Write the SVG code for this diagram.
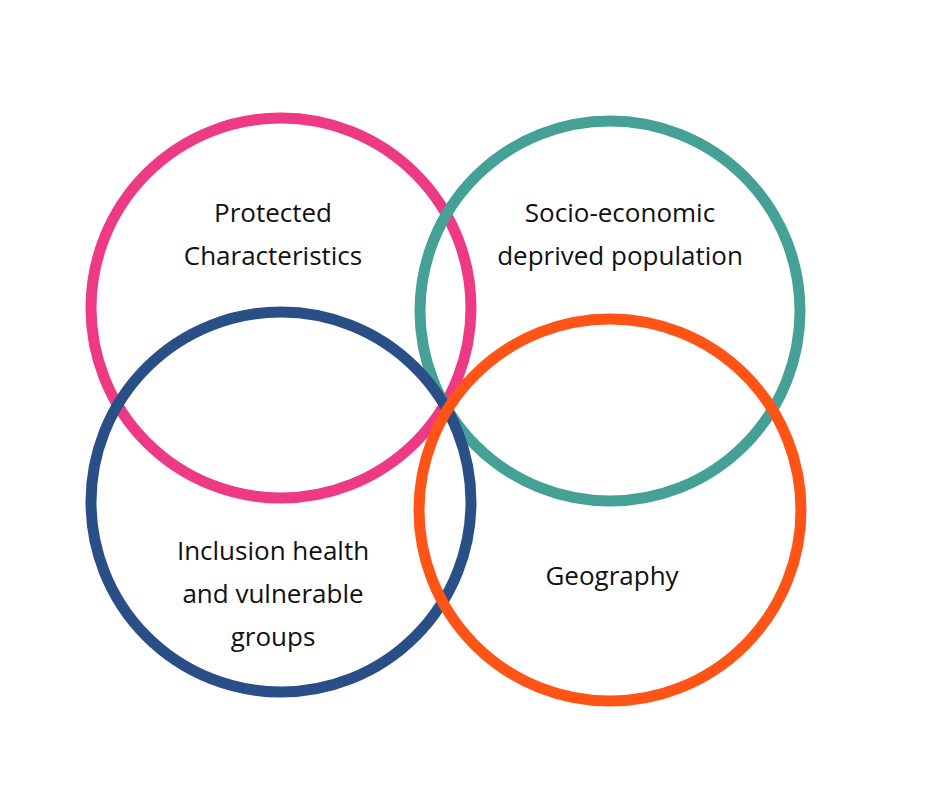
<svg xmlns="http://www.w3.org/2000/svg" width="940" height="788" viewBox="0 0 940 788">
<style>
.c{fill:none;stroke-width:11}
.t{font-family:"Open Sans","Liberation Sans",sans-serif;font-size:26px;fill:#111;text-anchor:middle}
</style>
<rect width="940" height="788" fill="#fff"/>
<g id="pink"><circle class="c" cx="281" cy="308" r="190" stroke="#EE3A84"/></g>
<g id="teal"><circle class="c" cx="610" cy="311" r="190" stroke="#45A195"/></g>
<g id="blue"><circle class="c" cx="281" cy="502" r="190" stroke="#2A4F87"/></g>
<g id="orange"><circle class="c" cx="610" cy="510" r="191" stroke="#FF5416"/></g>
<g id="labels">
<text class="t" x="273" y="222">Protected</text>
<text class="t" x="273" y="265">Characteristics</text>
<text class="t" x="620" y="222">Socio-economic</text>
<text class="t" x="620" y="265">deprived population</text>
<text class="t" x="273" y="560">Inclusion health</text>
<text class="t" x="273" y="603">and vulnerable</text>
<text class="t" x="273" y="646">groups</text>
<text class="t" x="612" y="585">Geography</text>
</g>
<g id="connectors"/>
</svg>
